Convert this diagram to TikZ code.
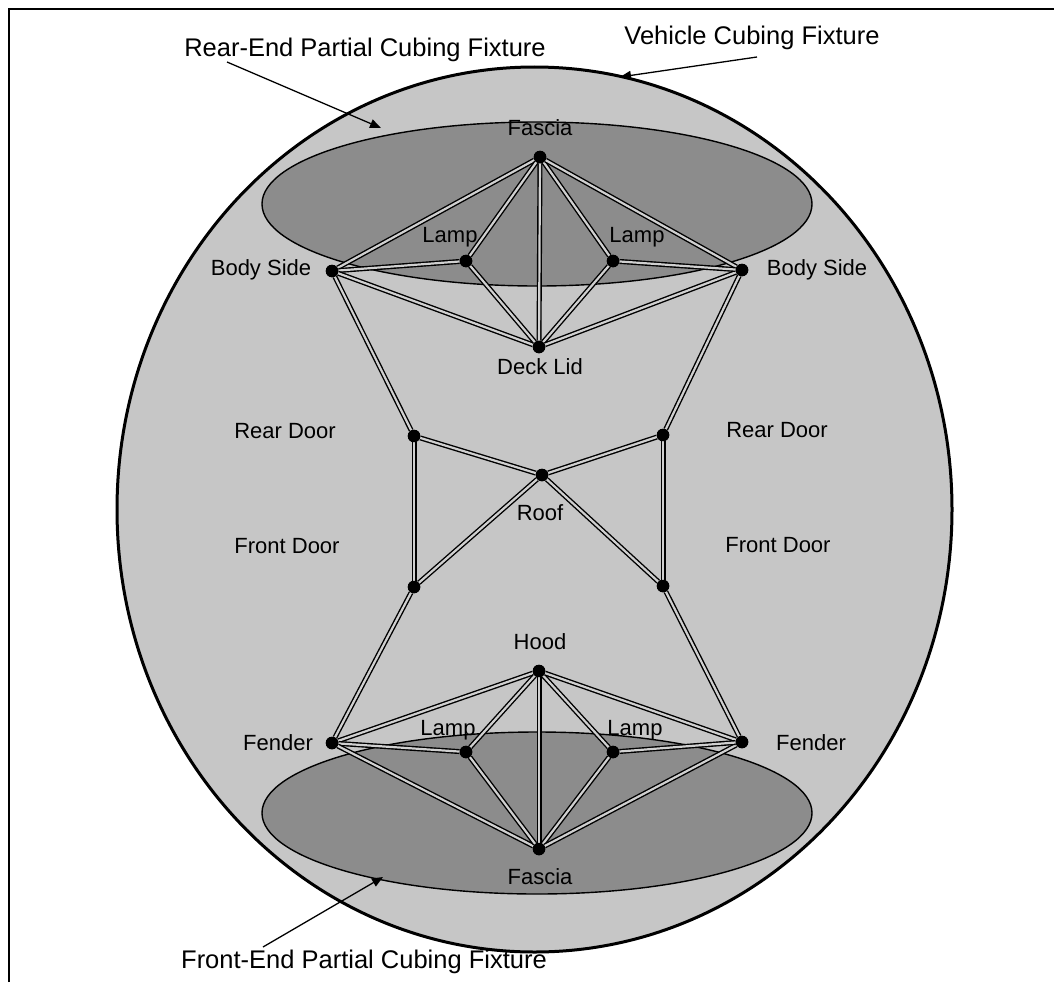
\documentclass[tikz,border=0pt]{standalone}
\usepackage{fontspec}
\setmainfont{Liberation Sans}
\usetikzlibrary{arrows.meta}
\definecolor{outerfill}{HTML}{C6C6C6}
\definecolor{innerfill}{HTML}{8C8C8C}
\definecolor{edgecore}{HTML}{D0D0D0}
\begin{document}
\begin{tikzpicture}[x=1pt,y=-1pt,
  dot/.style={circle,fill=black,inner sep=0pt,minimum size=12.5pt},
  link/.style={draw=black,line width=1.4pt,double=edgecore,double distance=2.2pt},
  lbl/.style={font=\fontsize{22}{24}\selectfont,inner sep=0pt},
  titlelbl/.style={font=\fontsize{25.5}{28}\selectfont,inner sep=0pt},
  pointer/.style={-{Triangle[length=11pt,width=9pt]},line width=1.3pt}]
\useasboundingbox (0,0) rectangle (1054,982);
% frame (cropped)
\draw[line width=2pt] (9,982) -- (9,9) -- (1054,9);
% fixtures
\draw[fill=outerfill,line width=3pt] (534.5,509.5) ellipse [x radius=417.5,y radius=442.5];
\draw[fill=innerfill,line width=1.4pt] (537,204) ellipse [x radius=275,y radius=82];
\draw[fill=innerfill,line width=1.4pt] (537,813) ellipse [x radius=275,y radius=81];
% nodes
\node[dot] (FT) at (540,157) {};
\node[dot] (LLT) at (466,261) {};
\node[dot] (LRT) at (613,261) {};
\node[dot] (BSL) at (332,271) {};
\node[dot] (BSR) at (742,270) {};
\node[dot] (DL) at (539,347) {};
\node[dot] (RDL) at (414,436) {};
\node[dot] (RDR) at (663,435) {};
\node[dot] (RF) at (542,475) {};
\node[dot] (FDL) at (414,587) {};
\node[dot] (FDR) at (663,586) {};
\node[dot] (HD) at (539,671) {};
\node[dot] (LLB) at (466,752) {};
\node[dot] (LRB) at (613,752) {};
\node[dot] (FL) at (332,743) {};
\node[dot] (FR) at (742,742) {};
\node[dot] (FB) at (539,849) {};
% edges
\foreach \a/\b in {FT/BSL,FT/LLT,FT/DL,FT/LRT,FT/BSR,BSL/LLT,BSL/DL,LLT/DL,LRT/DL,BSR/DL,LRT/BSR,
  BSL/RDL,BSR/RDR,RDL/RF,RDR/RF,RF/FDL,RF/FDR,RDL/FDL,RDR/FDR,FDL/FL,FDR/FR,
  HD/FL,HD/LLB,HD/FB,HD/LRB,HD/FR,FL/LLB,FL/FB,LLB/FB,LRB/FB,FR/FB,LRB/FR}
  \draw[link] (\a) -- (\b);
% redraw dots on top
\foreach \n in {FT,LLT,LRT,BSL,BSR,DL,RDL,RDR,RF,FDL,FDR,HD,LLB,LRB,FL,FR,FB}
  \fill (\n) circle (6.25pt);
% labels
\node[lbl] (tFT) at (540,128) {Fascia};
\node[lbl] (tLLT) at (450,237) {Lamp};
\node[lbl] (tLRT) at (637,237) {Lamp};
\node[lbl] (tBSL) at (261,270) {Body Side};
\node[lbl] (tBSR) at (817,270) {Body Side};
\node[lbl] (tDL) at (540,367) {Deck Lid};
\node[lbl] (tRDL) at (285,431) {Rear Door};
\node[lbl] (tRDR) at (777,430) {Rear Door};
\node[lbl] (tRF) at (540,513) {Roof};
\node[lbl] (tFDL) at (287,546) {Front Door};
\node[lbl] (tFDR) at (778,545) {Front Door};
\node[lbl] (tHD) at (540,642) {Hood};
\node[lbl] (tLLB) at (448,730) {Lamp};
\node[lbl] (tLRB) at (635,730) {Lamp};
\node[lbl] (tFL) at (278,743) {Fender};
\node[lbl] (tFR) at (811,743) {Fender};
\node[lbl] (tFB) at (540,877) {Fascia};
% titles and pointers
\node[titlelbl] (rear) at (365,50) {Rear-End Partial Cubing Fixture};
\node[titlelbl] (veh) at (752,38) {Vehicle Cubing Fixture};
\node[titlelbl] (front) at (364,962) {Front-End Partial Cubing Fixture};
\coordinate (rearfrom) at (227,62);
\coordinate (reartip) at (381,128);
\coordinate (vehfrom) at (757,57);
\coordinate (vehtip) at (620,77);
\coordinate (frontfrom) at (263,947);
\coordinate (fronttip) at (383,877);
\draw[pointer] (rearfrom) -- (reartip);
\draw[pointer] (vehfrom) -- (vehtip);
\draw[pointer] (frontfrom) -- (fronttip);
\end{tikzpicture}
\end{document}
